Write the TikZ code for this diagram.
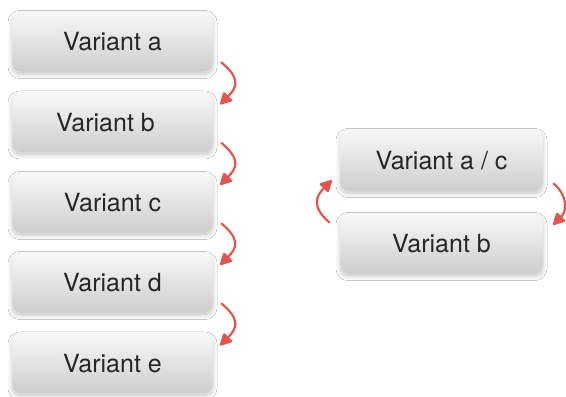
\documentclass[tikz,border=0pt]{standalone}
\usepackage{fontspec}
\setmainfont{TeX Gyre Heros}
\usetikzlibrary{arrows.meta,shadows.blur}
\definecolor{arrowred}{HTML}{E5554E}
\definecolor{boxtop}{HTML}{F8F8F8}
\definecolor{boxbottom}{HTML}{CDCDCD}
\definecolor{boxline}{HTML}{EDEDED}
\tikzset{
  variant/.style={draw=boxline, line width=0.4pt, rounded corners=8pt,
    top color=boxtop, bottom color=boxbottom,
    minimum width=201pt, minimum height=60pt, inner sep=0pt,
    font=\fontsize{25pt}{28pt}\selectfont, text=black!85,
    blur shadow={shadow xshift=0pt, shadow yshift=-2.5pt,
      shadow blur radius=4pt, shadow opacity=22}},
  flow/.style={draw=arrowred, line width=2.2pt,
    -{Triangle[length=13pt,width=13pt,round]}}
}
\begin{document}
\begin{tikzpicture}[x=1pt,y=1pt]
\useasboundingbox[fill=white] (0,0) rectangle (566,397);

% linear chain of variants
\node[variant] (va) at (112.5,355)   {Variant a};
\node[variant] (vb) at (112.5,274.5) {\hspace*{-14pt}Variant b};
\node[variant] (vc) at (112.5,194)   {Variant c};
\node[variant] (vd) at (112.5,114)   {Variant d};
\node[variant] (ve) at (112.5,33.5)  {Variant e};

% alternating pair
\node[variant, minimum width=203pt, minimum height=61pt] (rac) at (441.5,236.5) {Variant a / c};
\node[variant, minimum width=203pt] (rb)  at (441.5,153)   {Variant b};

% chain arrows
\foreach \u/\v in {va/vb, vb/vc, vc/vd, vd/ve}{
  \draw[flow] ([xshift=8pt,yshift=10pt]\u.south east)
    to[out=-40,in=45,looseness=1.5] ([xshift=7pt,yshift=-12pt]\v.north east);
}

% cycle arrows
\draw[flow] ([xshift=10pt,yshift=8pt]rac.south east)
  to[out=-40,in=45,looseness=1.2] ([xshift=10pt,yshift=-11pt]rb.north east);
\draw[flow] ([xshift=-10pt,yshift=-9pt]rb.north west)
  to[out=140,in=-135,looseness=1.4] ([xshift=-8pt,yshift=11pt]rac.south west);
\end{tikzpicture}
\end{document}
